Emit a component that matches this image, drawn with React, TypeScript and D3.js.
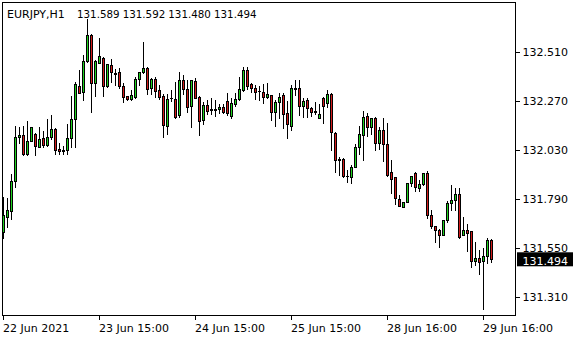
import React from "react";
import * as d3 from "d3";

const symbol = "EURJPY,H1";
const lastOHLC = ["131.589", "131.592", "131.480", "131.494"];

// O, H, L, C per hourly bar
const opens = [131.626,131.700,131.732,131.877,132.093,132.104,132.012,132.076,132.109,132.047,132.088,132.055,132.096,132.132,132.035,132.033,132.031,132.088,132.181,132.345,132.317,132.468,132.595,132.361,132.458,132.484,132.346,132.448,132.404,132.412,132.346,132.296,132.279,132.292,132.378,132.412,132.432,132.333,132.379,132.325,132.297,132.148,132.288,132.279,132.202,132.374,132.329,132.245,132.371,132.292,132.178,132.251,132.230,132.228,132.230,132.240,132.273,132.197,132.256,132.279,132.325,132.423,132.355,132.333,132.319,132.317,132.292,132.301,132.219,132.268,132.301,132.211,132.150,132.333,132.333,132.248,132.276,132.238,132.216,132.189,132.287,132.260,132.304,132.114,131.985,131.985,131.904,131.899,131.949,132.047,132.106,132.197,132.145,132.186,132.067,132.129,132.059,131.921,131.898,131.790,131.752,131.777,131.871,131.920,131.846,131.862,131.916,131.713,131.656,131.640,131.613,131.687,131.769,131.785,131.813,131.612,131.638,131.633,131.487,131.499,131.488,131.510,131.589];
const highs = [131.801,131.793,131.913,132.148,132.142,132.148,132.173,132.145,132.115,132.142,132.122,132.183,132.202,132.139,132.063,132.050,132.158,132.296,132.366,132.423,132.497,132.674,132.598,132.472,132.582,132.486,132.455,132.476,132.427,132.432,132.361,132.298,132.325,132.390,132.414,132.559,132.440,132.386,132.390,132.350,132.304,132.304,132.325,132.366,132.415,132.399,132.376,132.376,132.384,132.296,132.268,132.276,132.284,132.276,132.256,132.256,132.309,132.284,132.309,132.390,132.437,132.437,132.361,132.350,132.345,132.355,132.358,132.303,132.276,132.309,132.309,132.271,132.350,132.374,132.374,132.284,132.284,132.243,132.268,132.255,132.289,132.325,132.309,132.120,131.996,131.989,131.932,131.959,132.062,132.148,132.222,132.211,132.189,132.191,132.145,132.186,132.163,131.981,131.899,131.812,131.775,131.869,131.903,131.921,131.883,131.918,131.927,131.734,131.658,131.642,131.689,131.778,131.859,131.842,131.846,131.703,131.666,131.635,131.579,131.541,131.548,131.597,131.592];
const lows = [131.597,131.651,131.690,131.850,132.063,132.006,132.006,132.074,132.006,132.045,132.047,132.050,132.085,132.011,132.011,132.011,132.011,132.047,132.047,132.312,132.276,132.464,132.219,132.296,132.456,132.297,132.342,132.366,132.350,132.336,132.268,132.277,132.277,132.287,132.350,132.407,132.304,132.304,132.292,132.281,132.096,132.108,132.271,132.186,132.194,132.304,132.219,132.143,132.285,132.104,132.158,132.207,132.206,132.197,132.211,132.211,132.202,132.186,132.247,132.277,132.322,132.329,132.317,132.279,132.276,132.260,132.284,132.178,132.148,132.186,132.137,132.088,132.129,132.301,132.202,132.194,132.194,132.199,132.206,132.186,132.162,132.243,132.031,131.922,131.910,131.899,131.875,131.871,131.947,132.011,131.981,132.099,132.108,132.029,132.035,131.977,131.905,131.818,131.764,131.755,131.750,131.776,131.855,131.830,131.829,131.860,131.699,131.650,131.580,131.552,131.611,131.679,131.736,131.736,131.601,131.611,131.535,131.458,131.466,131.423,131.250,131.474,131.480];
const closes = [131.711,131.736,131.878,132.093,132.104,132.009,132.075,132.142,132.050,132.083,132.057,132.096,132.134,132.031,132.028,132.028,132.088,132.181,132.355,132.313,132.469,132.595,132.358,132.468,132.492,132.346,132.451,132.412,132.411,132.346,132.292,132.279,132.301,132.379,132.412,132.432,132.329,132.379,132.320,132.292,132.153,132.279,132.286,132.194,132.374,132.329,132.243,132.374,132.287,132.174,132.251,132.223,132.228,132.230,132.240,132.216,132.211,132.260,132.281,132.329,132.423,132.346,132.333,132.317,132.318,132.292,132.305,132.219,132.268,132.292,132.207,132.157,132.333,132.332,132.248,132.271,132.238,132.216,132.222,132.206,132.248,132.304,132.117,131.984,131.984,131.903,131.903,131.945,132.045,132.108,132.191,132.145,132.186,132.067,132.129,132.059,131.908,131.890,131.793,131.757,131.774,131.867,131.901,131.850,131.862,131.916,131.711,131.657,131.639,131.615,131.687,131.769,131.785,131.813,131.605,131.638,131.625,131.487,131.499,131.482,131.510,131.587,131.494];

const priceTicks = [132.51, 132.27, 132.03, 131.79, 131.55, 131.31];
const timeTickBars = [0, 24, 48, 72, 96, 120];
const timeTickLabels = ["22 Jun 2021", "23 Jun 15:00", "24 Jun 15:00", "25 Jun 15:00", "28 Jun 16:00", "29 Jun 16:00"];
const currentPrice = 131.494;

const W = 580;
const H = 340;
const left = 2.5, right = 515.5, top = 2.5, bottom = 315.5;
const BULL = "#1fd21f";
const BEAR = "#d21b1b";
const FONT = "'DejaVu Sans', Verdana, sans-serif";

export default function App() {
  const n = opens.length;
  const x = d3.scaleLinear().domain([0, n - 1]).range([3.5, 3.5 + 4 * (n - 1)]);
  const y = d3.scaleLinear().domain([131.218, 132.755]).range([bottom, top]);
  const snap = (v: number) => Math.round(v) + 0.5;

  const candles = opens.map((o, i) => {
    const c = closes[i];
    const h = highs[i];
    const l = lows[i];
    const cx = x(i);
    const yTop = snap(y(Math.max(o, c)));
    const yBot = snap(y(Math.min(o, c)));
    const bull = c >= o;
    return (
      <g key={i}>
        <line x1={cx} x2={cx} y1={Math.round(y(h))} y2={Math.round(y(l)) + 1} stroke="#000" strokeWidth={1} />
        {yBot - yTop >= 1 ? (
          <rect x={cx - 1} y={yTop} width={2} height={yBot - yTop} fill={bull ? BULL : BEAR} stroke="#000" strokeWidth={1} />
        ) : (
          <line x1={cx - 1.5} x2={cx + 1.5} y1={yTop} y2={yTop} stroke="#000" strokeWidth={1} />
        )}
      </g>
    );
  });

  const yc = y(currentPrice);
  const ohlcX = [77, 122.7, 168.3, 214];

  return (
    <svg width={W} height={H} style={{ position: "absolute", left: 0, top: 0, background: "#fff" }} fontFamily={FONT}>
      <rect x={0} y={0} width={W} height={H} fill="#fff" />
      {candles}
      <rect x={left} y={top} width={right - left} height={bottom - top} fill="none" stroke="#000" strokeWidth={1} />
      {priceTicks.map((p) => (
        <g key={p}>
          <line x1={516} x2={520} y1={snap(y(p))} y2={snap(y(p))} stroke="#000" />
          <text x={522.5} y={y(p) + 4} fontSize={11} fill="#000">{p.toFixed(3)}</text>
        </g>
      ))}
      <rect x={517} y={yc - 7} width={56} height={14} fill="#000" />
      <text x={522.5} y={yc + 5.5} fontSize={11} fill="#fff">{currentPrice.toFixed(3)}</text>
      {timeTickBars.map((b, i) => (
        <g key={b}>
          <line x1={x(b)} x2={x(b)} y1={316} y2={320} stroke="#000" />
          <text x={x(b) - 0.5} y={332} fontSize={11} fill="#000">{timeTickLabels[i]}</text>
        </g>
      ))}
      <text x={7} y={17.5} fontSize={11} fill="#000">{symbol}</text>
      {lastOHLC.map((v, i) => (
        <text key={i} x={ohlcX[i]} y={17.5} fontSize={10.3} fill="#000">{v}</text>
      ))}
    </svg>
  );
}
